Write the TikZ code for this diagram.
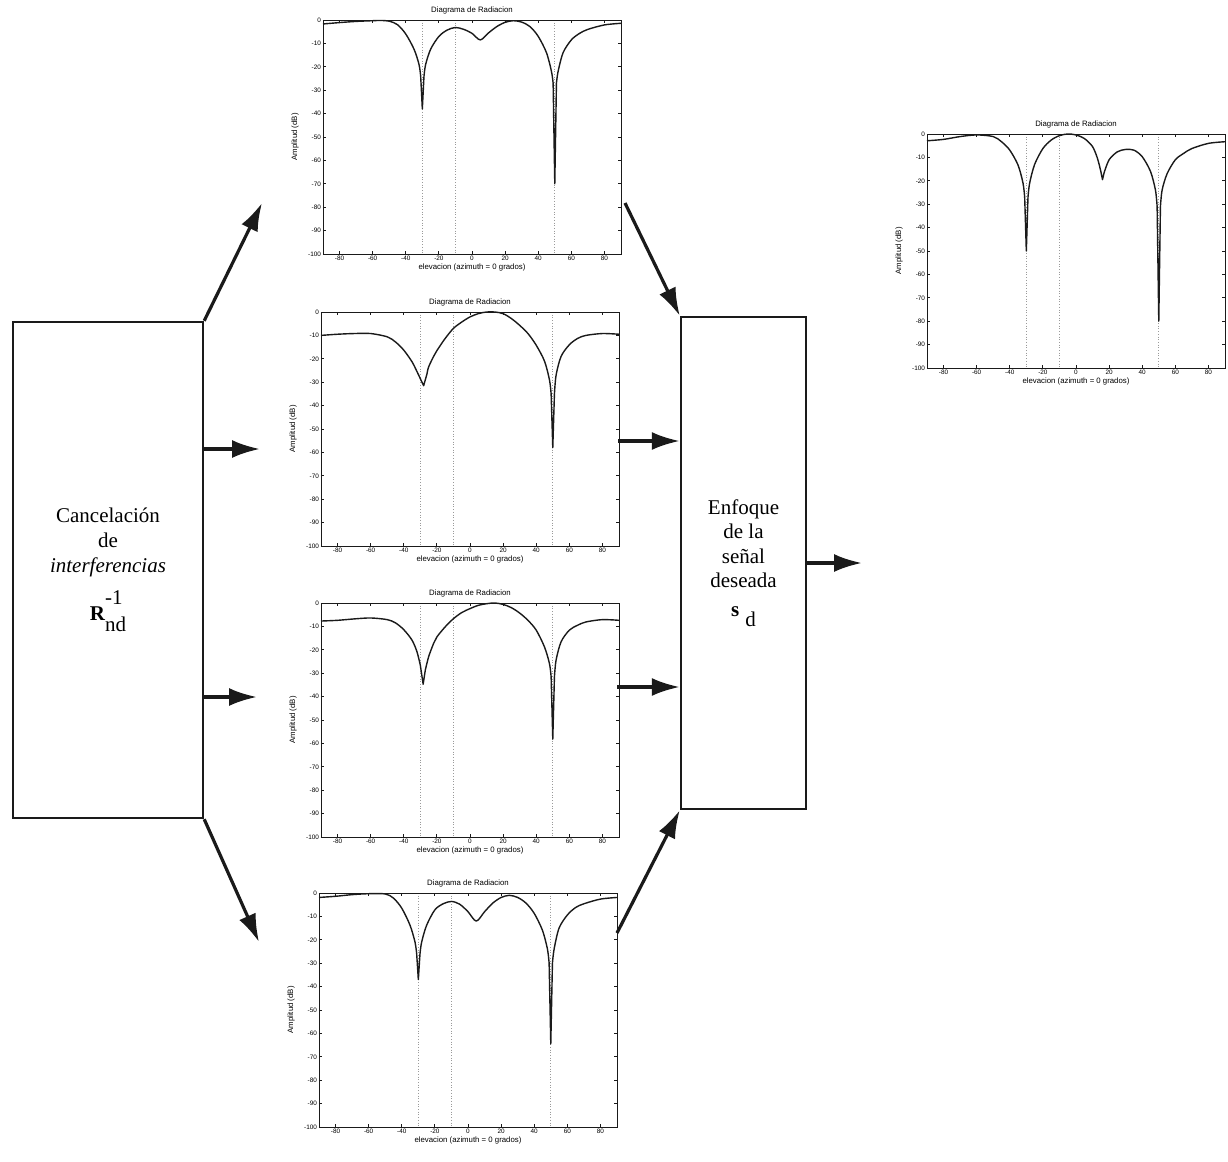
\documentclass[tikz,border=0pt]{standalone}
\usepackage{fontspec}
\setmainfont{Liberation Serif}
\setsansfont{Liberation Sans}
\usepackage{xcolor}
\definecolor{inkBlack}{HTML}{1a1a1a}
\definecolor{guideGray}{HTML}{9a9a9a}
\usepackage{tikz}
\usetikzlibrary{arrows.meta,calc}

% one MATLAB-style radiation pattern: #1 left, #2 top (px), #3 curve path
\newcommand{\radplot}[3]{%
  \begin{scope}[shift={(#1+149,#2)},x=0.8278pt,y=1.17pt]
    \foreach \gx in {-30,-10,50}
      \draw[guide] (\gx,0) -- (\gx,-100);
    \draw[axisline] (-90,-100) rectangle (90,0);
    \foreach \tk in {0,-10,...,-100} {
      \draw[axisline] (-90,\tk) -- ++(1.6pt,0);
      \draw[axisline] (90,\tk) -- ++(-1.6pt,0);
      \node[ticklabel,anchor=east] at (-90,\tk) {\tk};
    }
    \foreach \tk in {-80,-60,...,80} {
      \draw[axisline] (\tk,-100) -- ++(0,1.6pt);
      \draw[axisline] (\tk,0) -- ++(0,-1.6pt);
      \node[ticklabel,anchor=north] at (\tk,-100) {\tk};
    }
    \draw[patterncurve] #3;
    \node[plottitle] at ([yshift=4.6pt]0,0) {Diagrama de Radiacion};
    \node[plotlabel] at ([yshift=-6.6pt]0,-100) {elevacion (azimuth = 0 grados)};
    \node[plotlabel,rotate=90] at ([xshift=-14pt]-90,-50) {Amplitud (dB)};
  \end{scope}}

\begin{document}
\begin{tikzpicture}[
      x=0.5pt, y=-0.5pt,
      blockbox/.style={rectangle,draw=inkBlack,line width=1.2pt,inner sep=0pt,
                       align=center,font=\fontsize{10.5}{12.3}\selectfont},
      arr/.style={-{Latex[length=14pt,width=9pt]},line width=1.6pt,inkBlack},
      axisline/.style={line width=0.45pt,inkBlack},
      guide/.style={densely dotted,line width=0.35pt,guideGray},
      patterncurve/.style={line width=0.7pt,inkBlack,line join=round},
      ticklabel/.style={inner sep=0.8pt,font=\fontsize{3.2}{3.6}\selectfont\sffamily},
      plottitle/.style={inner sep=0pt,font=\fontsize{3.9}{4.4}\selectfont\sffamily},
      plotlabel/.style={inner sep=0pt,font=\fontsize{3.9}{4.4}\selectfont\sffamily},
    ]
    \useasboundingbox (0,0) rectangle (1228,1162);

    % Left: interference cancellation block
    \node[blockbox,minimum width=95pt,minimum height=248pt] (cancel) at (108,570) {%
      Cancelación\\ de\\ \textit{interferencias}\\[6pt]
      \textbf{R}\rlap{\raisebox{8pt}{-1}}\raisebox{-5.5pt}{nd}%
    };

    % Right: focusing on the wanted signal
    \node[blockbox,minimum width=62.5pt,minimum height=246pt] (enfoque) at (743.5,563) {%
      Enfoque\\ de la\\ señal\\ deseada\\[2pt]
      \textbf{s}\hspace{3pt}\raisebox{-5pt}{d}%
    };

    % Patterns after cancellation
    \radplot{323}{20}{plot[smooth] coordinates {(-90,-1.7) (-80,-1.1) (-70,-0.6) (-60,-0.3) (-55,-0.2) (-50,-0.5) (-45,-2) (-40,-6) (-35,-12.5) (-32,-19) (-31,-24)}
      -- (-30,-38) -- plot[smooth] coordinates {(-29,-24) (-28,-19) (-25,-12.5) (-20,-7) (-15,-4.3) (-10,-3.2) (-5,-4) (0,-5.7) (5,-8.5) (10,-5.5) (15,-2.8) (20,-1) (25,-0.3) (30,-0.9) (35,-2.8) (40,-7) (45,-14) (48,-22) (49,-27)}
      -- (50,-70) -- plot[smooth] coordinates {(51,-27) (52,-22) (55,-14) (60,-8.5) (65,-5.7) (70,-4) (80,-2.1) (90,-1.4)}}

    \radplot{321}{312}{plot[smooth] coordinates {(-90,-10) (-80,-9.5) (-70,-9.2) (-60,-9.2) (-50,-10.6) (-45,-12.8) (-40,-16.3) (-35,-21.3) (-32,-25.5) (-30,-28.5)}
      -- (-28,-31.5) -- plot[smooth] coordinates {(-26,-26.5) (-25,-23.5) (-22,-19) (-20,-16.5) (-15,-11.3) (-10,-7) (-5,-4.3) (0,-2.1) (5,-0.7) (10,0) (15,0) (20,-0.7) (25,-2.8) (30,-5.7) (35,-9.2) (40,-14.2) (45,-21) (48,-29) (49,-35)}
      -- (50,-58) -- plot[smooth] coordinates {(51,-35) (52,-27) (55,-19) (60,-14) (65,-11.3) (70,-10) (80,-9.2) (90,-9.5)}}

    \radplot{321}{603}{plot[smooth] coordinates {(-90,-7.7) (-80,-7.4) (-70,-6.8) (-60,-6.4) (-50,-7.1) (-45,-8.5) (-40,-11.4) (-35,-15.9) (-32,-20.9) (-30,-26.6)}
      -- (-28.3,-34.7) -- plot[smooth] coordinates {(-27,-28.7) (-25,-23) (-22,-17.3) (-20,-14.5) (-15,-10.2) (-10,-6.7) (-5,-4.1) (0,-2.4) (5,-1) (10,-0.3) (15,0) (20,-0.6) (25,-2) (30,-4.3) (35,-7.4) (40,-11.6) (45,-18.8) (48,-25.9) (49,-31.5)}
      -- (50,-58.2) -- plot[smooth] coordinates {(51,-31.5) (52,-24.4) (55,-16.6) (60,-11.6) (65,-9.5) (70,-8.1) (80,-7.1) (90,-7.4)}}

    \radplot{319}{893}{plot[smooth] coordinates {(-90,-1.9) (-80,-1.4) (-70,-0.7) (-60,-0.3) (-50,-0.4) (-45,-2.2) (-40,-6.5) (-35,-13.8) (-32,-21) (-31,-26)}
      -- (-30,-37) -- plot[smooth] coordinates {(-29,-26) (-28,-21) (-25,-13.8) (-20,-7.2) (-15,-4.6) (-10,-3.6) (-5,-4.8) (0,-8) (5,-12) (10,-8) (15,-4.3) (20,-1.9) (25,-1) (30,-1.9) (35,-4.3) (40,-8.7) (45,-16) (48,-24) (49,-30)}
      -- (50,-64.5) -- plot[smooth] coordinates {(51,-30) (52,-24) (55,-15) (60,-9.4) (65,-6.2) (70,-4.6) (80,-2.6) (90,-1.9)}}

    % Resulting pattern
    \radplot{927}{134}{plot[smooth] coordinates {(-90,-2.9) (-80,-2.3) (-70,-1.1) (-60,-0.4) (-50,-1.1) (-45,-3.3) (-40,-6.9) (-35,-13.3) (-32,-21) (-31,-27)}
      -- (-30,-50) -- plot[smooth] coordinates {(-29,-27) (-28,-21) (-25,-13) (-20,-6.2) (-15,-2.6) (-10,-0.7) (-5,0) (0,-0.4) (5,-1.9) (10,-5.4) (13,-10.5) (15,-16)}
      -- (16,-19.5) -- plot[smooth] coordinates {(17,-16.5) (20,-11) (25,-7.6) (30,-6.6) (35,-6.9) (40,-9.7) (45,-16) (48,-24) (49,-31)}
      -- (50,-80) -- plot[smooth] coordinates {(51,-31) (52,-24) (55,-17) (60,-11) (65,-8.3) (70,-6.2) (80,-4) (90,-3.3)}}

    % Free arrow ends next to the patterns
    \coordinate (up1) at (262,203);
    \coordinate (mid1) at (260,449);
    \coordinate (mid2) at (257,697);
    \coordinate (dn1) at (259,942);
    \coordinate (in1) at (625,203);
    \coordinate (in2) at (618,441);
    \coordinate (in3) at (617,687);
    \coordinate (in4) at (617,933);
    \coordinate (out) at (862,563);

    % Fan out of the cancellation block
    \draw[arr] (cancel.north east) -- (up1);
    \draw[arr] (cancel.east |- mid1) -- (mid1);
    \draw[arr] (cancel.east |- mid2) -- (mid2);
    \draw[arr] (cancel.south east) -- (dn1);

    % Fan in to the focusing block
    \draw[arr] (in1) -- (enfoque.north west);
    \draw[arr] (in2) -- (enfoque.west |- in2);
    \draw[arr] (in3) -- (enfoque.west |- in3);
    \draw[arr] (in4) -- (enfoque.south west);
    \draw[arr] (enfoque.east) -- (out);

  \end{tikzpicture}
\end{document}
